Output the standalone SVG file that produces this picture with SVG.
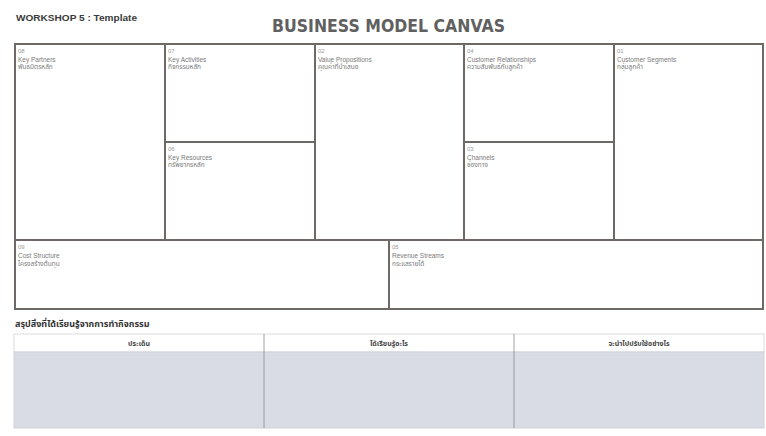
<svg xmlns="http://www.w3.org/2000/svg" width="766" height="436" viewBox="0 0 766 436">
<style>
.box{fill:#ffffff;stroke:#6e6866;stroke-width:2}
.num{font-family:"Liberation Sans",sans-serif;font-size:6px;fill:#9a9a9a}
.lbl{font-family:"Liberation Sans","Noto Sans Thai","Noto Sans",sans-serif;font-size:6.5px;fill:#7a7a7a}
.th{font-family:"Noto Sans Thai","Noto Sans","Liberation Sans",sans-serif;font-size:7px;font-weight:bold;fill:#444;text-anchor:middle}
</style>
<rect width="766" height="436" fill="#ffffff"/>
<text x="16" y="21" font-family="Liberation Sans,sans-serif" font-size="9" font-weight="bold" fill="#3a3a3a" textLength="121" lengthAdjust="spacingAndGlyphs">WORKSHOP 5 : Template</text>
<text x="272" y="32" font-family="DejaVu Sans,sans-serif" font-size="18" font-weight="bold" fill="#606060" textLength="233" lengthAdjust="spacingAndGlyphs">BUSINESS MODEL CANVAS</text>
<g id="canvas">
<g id="key-partners"><rect class="box" x="15" y="44" width="150" height="196"/><text class="num" x="18" y="53">08</text><text class="lbl" x="18" y="62">Key Partners</text><text class="lbl" x="18" y="69">พันธมิตรหลัก</text></g>
<g id="key-activities"><rect class="box" x="165" y="44" width="150" height="98"/><text class="num" x="168" y="53">07</text><text class="lbl" x="168" y="62">Key Activities</text><text class="lbl" x="168" y="69">กิจกรรมหลัก</text></g>
<g id="key-resources"><rect class="box" x="165" y="142" width="150" height="98"/><text class="num" x="168" y="151">06</text><text class="lbl" x="168" y="160">Key Resources</text><text class="lbl" x="168" y="167">ทรัพยากรหลัก</text></g>
<g id="value-propositions"><rect class="box" x="315" y="44" width="149" height="196"/><text class="num" x="318" y="53">02</text><text class="lbl" x="318" y="62">Value Propositions</text><text class="lbl" x="318" y="69">คุณค่าที่นำเสนอ</text></g>
<g id="customer-relationships"><rect class="box" x="464" y="44" width="150" height="98"/><text class="num" x="467" y="53">04</text><text class="lbl" x="467" y="62">Customer Relationships</text><text class="lbl" x="467" y="69">ความสัมพันธ์กับลูกค้า</text></g>
<g id="channels"><rect class="box" x="464" y="142" width="150" height="98"/><text class="num" x="467" y="151">03</text><text class="lbl" x="467" y="160">Channels</text><text class="lbl" x="467" y="167">ช่องทาง</text></g>
<g id="customer-segments"><rect class="box" x="614" y="44" width="149" height="196"/><text class="num" x="617" y="53">01</text><text class="lbl" x="617" y="62">Customer Segments</text><text class="lbl" x="617" y="69">กลุ่มลูกค้า</text></g>
<g id="cost-structure"><rect class="box" x="15" y="240" width="374" height="69"/><text class="num" x="18" y="249">09</text><text class="lbl" x="18" y="258">Cost Structure</text><text class="lbl" x="18" y="266">โครงสร้างต้นทุน</text></g>
<g id="revenue-streams"><rect class="box" x="389" y="240" width="374" height="69"/><text class="num" x="392" y="249">05</text><text class="lbl" x="392" y="258">Revenue Streams</text><text class="lbl" x="392" y="266">กระแสรายได้</text></g>
</g>
<text x="15" y="327" font-family="Noto Sans Thai,Noto Sans,Liberation Sans,sans-serif" font-size="9" font-weight="bold" fill="#333">สรุปสิ่งที่ได้เรียนรู้จากการทำกิจกรรม</text>
<g id="summary-table">
<rect x="14" y="334" width="750" height="18" fill="#ffffff" stroke="#dcdcdc" stroke-width="1"/>
<rect x="14" y="352" width="750" height="76" fill="#d9dce4" stroke="#cfd2da" stroke-width="1"/>
<line x1="264" y1="334" x2="264" y2="428" stroke="#8a8a90" stroke-width="0.8"/>
<line x1="514" y1="334" x2="514" y2="428" stroke="#8a8a90" stroke-width="0.8"/>
<text class="th" x="139" y="346">ประเด็น</text>
<text class="th" x="389" y="346">ได้เรียนรู้อะไร</text>
<text class="th" x="639" y="346">จะนำไปปรับใช้อย่างไร</text>
</g>
</svg>
